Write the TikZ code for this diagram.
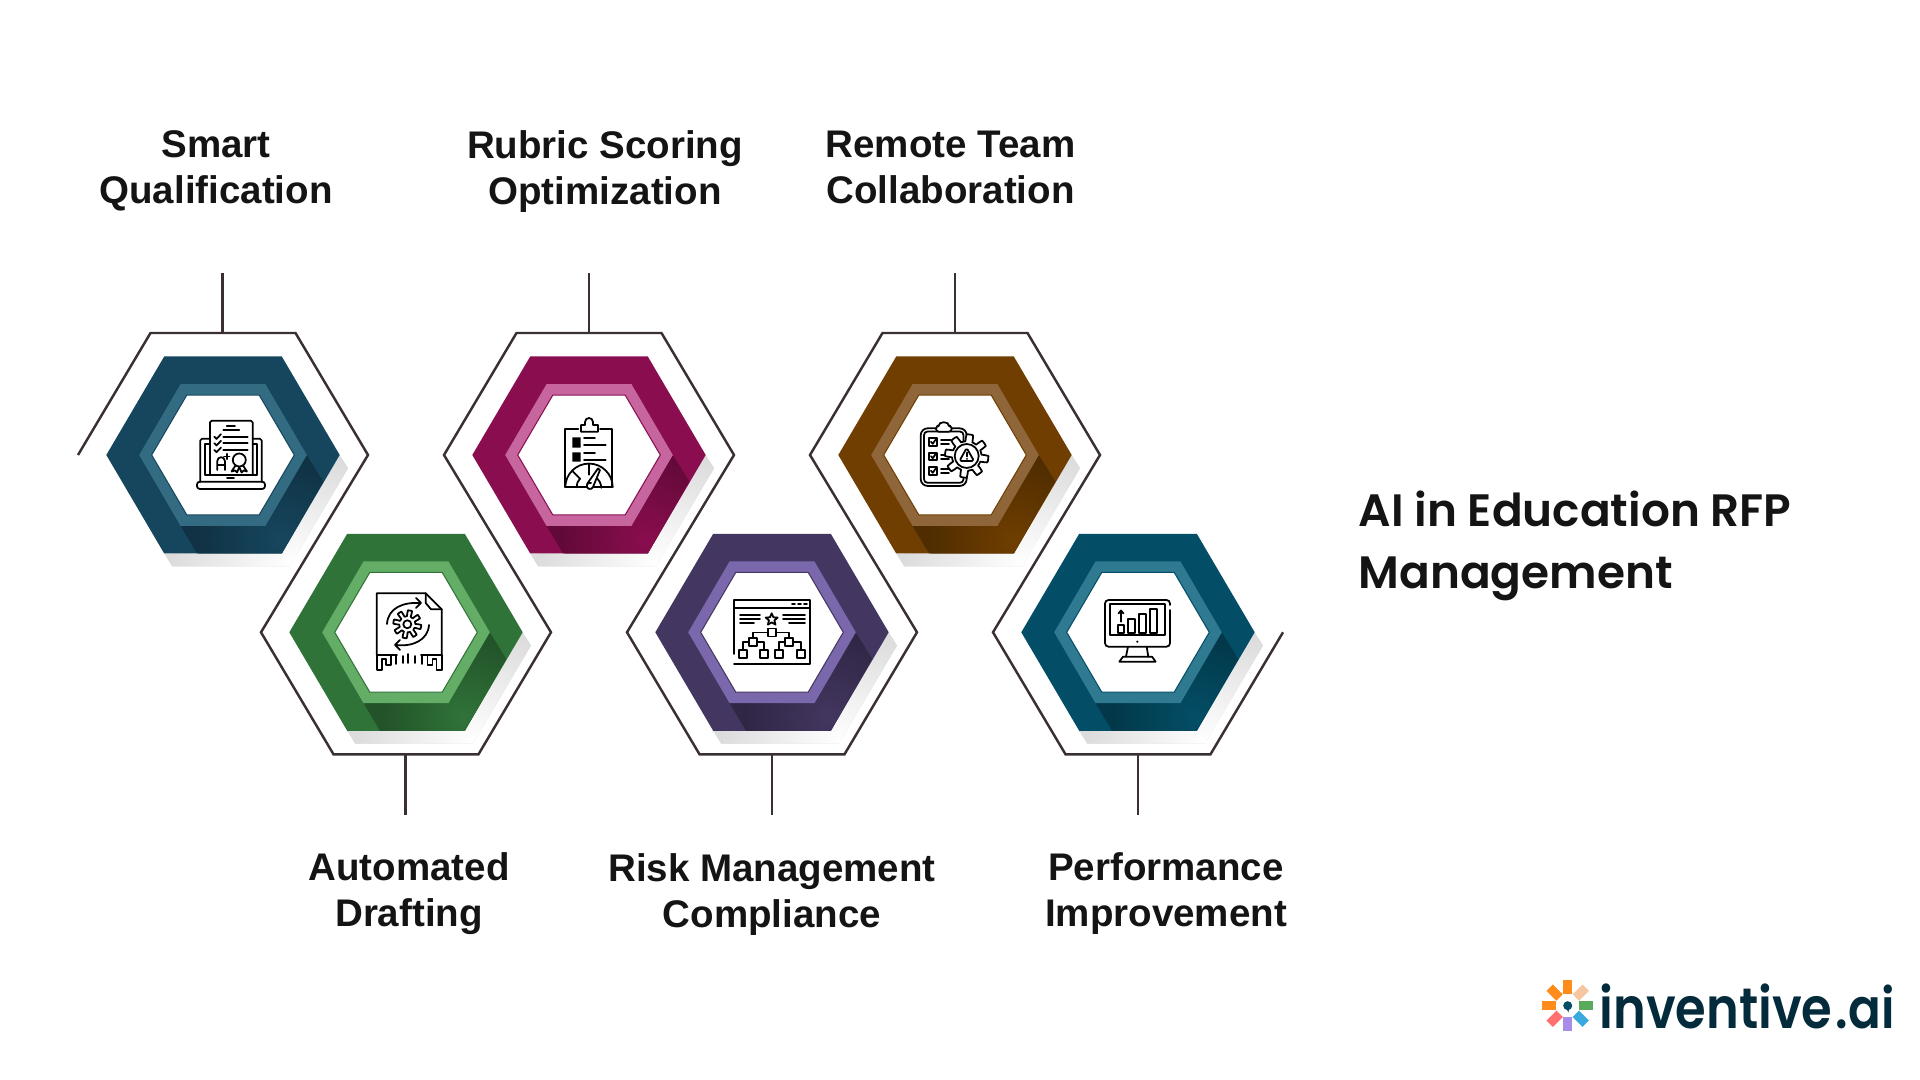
\documentclass[tikz,border=0pt]{standalone}
\usepackage{fontspec}
\setmainfont{Liberation Sans}
\newfontfamily\titlefont{Poppins SemiBold}
\newfontfamily\logofont{Poppins SemiBold}[FakeStretch=0.87]
\definecolor{wireink}{HTML}{3A2F33}
\definecolor{dropgray}{HTML}{DCDCDC}
\definecolor{logoink}{HTML}{032B3C}
\definecolor{blueDeep}{HTML}{16465E}
\definecolor{blueLight}{HTML}{336B82}
\definecolor{greenDeep}{HTML}{307339}
\definecolor{greenLight}{HTML}{63AD67}
\definecolor{plumDeep}{HTML}{8A0D4F}
\definecolor{plumLight}{HTML}{C6659E}
\definecolor{brownDeep}{HTML}{6F3E00}
\definecolor{brownLight}{HTML}{8F653A}
\definecolor{violetDeep}{HTML}{433660}
\definecolor{violetLight}{HTML}{7B68AC}
\definecolor{tealDeep}{HTML}{034E66}
\definecolor{tealLight}{HTML}{2F7A90}
\tikzset{
  wire/.style={wireink,line width=0.7pt},
  label/.style={font=\fontsize{10.95}{13.2}\selectfont\bfseries,align=center,text=black!92},
  iconline/.style={black,line width=0.5pt,line join=round,line cap=round},
}
\newcommand{\hexpath}[3]{(#1,0)--(#2,#3)--(-#2,#3)--(-#1,0)--(-#2,-#3)--(#2,-#3)--cycle}
\newcommand{\hexcell}[4]{%
\begin{scope}[shift={(#1,#2)}]
  \fill[dropgray] (116.7,0)--(125,13.3)--(67,111.3)--(-51,111.3)--(-58.8,98.5)--(58.8,98.5)--cycle;
  \begin{scope}
    \clip (116.7,0)--(125,13.3)--(67,111.3)--(-51,111.3)--(-58.8,98.5)--(58.8,98.5)--cycle;
    \shade[inner color=white,outer color=dropgray] (67,111) circle [radius=118];
  \end{scope}
  \fill[#3] \hexpath{116.7}{58.8}{98.5};
  \begin{scope}
    \clip (83.8,0)--(42.5,70.8)--(-42.5,70.8)--(-26,98.5)--(58.8,98.5)--(100,26.7)--cycle;
    \fill[#3!72!black] (-60,0) rectangle (120,100);
    \shade[inner color=#3,outer color=#3!72!black] (57,85) circle [radius=82];
  \end{scope}
  \fill[#4] \hexpath{83.8}{42.5}{70.8};
  \draw[#3,line width=0.3pt,fill=white] \hexpath{71.3}{36.2}{59.9};
\end{scope}}
\begin{document}
\begin{tikzpicture}[x=0.01cm,y=-0.01cm]
\useasboundingbox (0,0) rectangle (1920,1080);

\hexcell{223}{455}{blueDeep}{blueLight}
\hexcell{406}{632.3}{greenDeep}{greenLight}
\hexcell{589}{455}{plumDeep}{plumLight}
\hexcell{772}{632.3}{violetDeep}{violetLight}
\hexcell{955}{455}{brownDeep}{brownLight}
\hexcell{1138}{632.3}{tealDeep}{tealLight}

% outline running through all six cells
\draw[wire] (78,455)--(150.5,333)--(295.5,333)--(368,455)--(261,632.3)--(333.5,754.3)--(478.5,754.3)--(551,632.3)
  --(444,455)--(516.5,333)--(661.5,333)--(734,455)--(627,632.3)--(699.5,754.3)--(844.5,754.3)--(917,632.3)
  --(810,455)--(882.5,333)--(1027.5,333)--(1100,455)--(993,632.3)--(1065.5,754.3)--(1210.5,754.3)--(1283,632.3);

\coordinate (smartTop) at (222.5,273.5);   \coordinate (smartEdge) at (222.5,333);
\coordinate (rubricTop) at (589,273.5);    \coordinate (rubricEdge) at (589,333);
\coordinate (remoteTop) at (955,273.5);    \coordinate (remoteEdge) at (955,333);
\coordinate (draftEnd) at (405.5,815);     \coordinate (draftEdge) at (405.5,754.3);
\coordinate (riskEnd) at (772,815);        \coordinate (riskEdge) at (772,754.3);
\coordinate (perfEnd) at (1138,815);       \coordinate (perfEdge) at (1138,754.3);
\draw[wire] (smartTop)--(smartEdge);
\draw[wire] (rubricTop)--(rubricEdge);
\draw[wire] (remoteTop)--(remoteEdge);
\draw[wire] (draftEnd)--(draftEdge);
\draw[wire] (riskEnd)--(riskEdge);
\draw[wire] (perfEnd)--(perfEdge);

\node[label] (smartLabel) at (216,171) {Smart\\Qualification};
\node[label] (rubricLabel) at (605,171.5) {Rubric Scoring\\Optimization};
\node[label] (remoteLabel) at (950.5,167.5) {Remote Team\\Collaboration};
\node[label] (draftLabel) at (409,893.5) {Automated\\Drafting};
\node[label] (riskLabel) at (772,894.5) {Risk Management\\Compliance};
\node[label] (perfLabel) at (1166,893.5) {Performance\\Improvement};

\node[anchor=west,align=left,inner sep=0pt,text=black!92,font=\fontsize{12.9}{17.8}\selectfont\titlefont] (titleLabel) at (1358,546) {AI in Education RFP\\Management};

% laptop and certificate
\draw[iconline,rounded corners=0.5pt] (210,475)--(210,420.7)--(252.7,420.7)--(252.7,475);
\draw[iconline,rounded corners=0.5pt] (200.3,481.7)--(200.3,438.7)--(210,438.7);
\draw[iconline,rounded corners=0.5pt] (252.7,438.7)--(261.7,438.7)--(261.7,481.7);
\draw[iconline] (210,444)--(205.3,444)--(205.3,475)--(257.3,475)--(257.3,444)--(252.7,444);
\draw[iconline,rounded corners=0.8pt] (197,481.7) rectangle (265,489);
\draw[iconline] (227,478)--(234,478);
\draw[iconline] (226.7,425.7)--(235,425.7) (223.3,429.7)--(239.3,429.7);
\foreach \y in {436.7,443.3,450} {
  \draw[iconline] (223.3,\y)--(247.7,\y);
  \draw[iconline] (214.3,\y)--(216.5,\y+2.2)--(221,\y-2.5);
}
\draw[iconline] (217.3,470)--(217.3,461) arc (180:360:3.8)--(224.9,470) (217.3,465)--(224.9,465);
\draw[iconline] (224,456.5)--(229.4,456.5) (226.7,453.8)--(226.7,459.2);
\draw[iconline] (239.3,460) circle [radius=6.5];
\draw[iconline] (235.5,465.5)--(231.5,471.5)--(235,470.5)--(237,472.5)--(239.3,467)--(241.6,472.5)--(243.6,470.5)--(247,471.5)--(243,465.5);

% document with gear
\draw[iconline] (376.7,655)--(376.7,593.3)--(425.7,593.3)--(441.7,609.3)--(441.7,655);
\draw[iconline] (425.7,593.3)--(425.7,603)--(431,609.3)--(441.7,609.3);
\draw[iconline] plot[samples=145,domain=0:360] ({407.3+(11+3*max(min(3*sin(8*\x),1),-1))*cos(\x)},{624.3+(11+3*max(min(3*sin(8*\x),1),-1))*sin(\x)});
\draw[iconline] (407.3,624.3) circle [radius=4];
\draw[iconline] (387,624) .. controls (388,608) and (403,602) .. (420,603);
\draw[iconline] (416,598)--(421,603)--(416,608);
\draw[iconline] (429,625) .. controls (428,640) and (413,647) .. (396,645);
\draw[iconline] (400,640)--(395,645)--(400,650);
\draw[iconline] (397,655)--(376.7,655)--(376.7,670)--(382,670)--(382,659)--(386,659)--(386,665)--(391,665)--(391,655) (396,655)--(396,664);
\draw[iconline] (421,655)--(441.7,655)--(441.7,670)--(436.4,670)--(436.4,659)--(432.4,659)--(432.4,665)--(427.4,665)--(427.4,655) (422,655)--(422,664);
\draw[iconline] (402.7,656)--(402.7,663) (408.3,654)--(408.3,663) (415,656)--(415,663);

% clipboard with gauge
\draw[iconline] (578.3,429.3)--(565.3,429.3)--(565.3,487.3)--(612.3,487.3)--(612.3,429.3)--(600,429.3);
\draw[iconline] (581,431.7)--(598,431.7)--(598,425)--(593,425)--(593,422) arc (0:-180:4)--(585,425)--(581,425)--cycle;
\fill[black] (572.3,437.3) rectangle (580.7,447.7) (572.3,452.3) rectangle (580.7,461.7);
\draw[iconline] (584,438.3)--(595,438.3) (584,444.7)--(605.7,444.7) (584,453.3)--(595,453.3) (584,460)--(605.7,460);
\draw[iconline] (565.3,487.3) arc (180:360:23.7);
\draw[iconline] (576.5,487.3) arc (180:225:12.5) (595,477) arc (-60:0:12.5);
\draw[iconline] (589,463.6)--(589,474.8) (572,470.5)--(580,478.8);
\draw[iconline,fill=white] (587,484)--(598,468.5)--(600,470)--(593,487) arc (20:290:3.2);

% window with hierarchy
\draw[iconline] (734,664)--(810,664)--(810,600)--(734,600)--(734,654);
\draw[iconline] (734,608.3)--(810,608.3);
\draw[iconline] (792,604.3)--(795,604.3) (798,604.3)--(801,604.3) (804,604.3)--(807,604.3);
\draw[iconline] (740,615)--(760,615) (740,619.3)--(760,619.3) (740,623.3)--(754,623.3);
\draw[iconline] (783,615)--(805,615) (783,619.3)--(805,619.3) (789,623.3)--(805,623.3);
\draw[iconline] (771.7,613.3)--(773.4,617.3)--(777.7,617.6)--(774.4,620.4)--(775.5,624.6)--(771.7,622.4)--(767.9,624.6)--(769,620.4)--(765.7,617.6)--(770,617.3)--cycle;
\draw[iconline] (767.7,628.5) rectangle (775.7,636.5);
\draw[iconline] (749.3,638.3) rectangle (757.3,646.3) (785.3,638.3) rectangle (793.3,646.3);
\foreach \x in {742.7,764.3,778.7,801} {
  \draw[iconline] (\x-4,650) rectangle (\x+4,658);
}
\draw[iconline] (753.3,638.3)--(753.3,632.5)--(767.7,632.5) (775.7,632.5)--(789.3,632.5)--(789.3,638.3);
\draw[iconline] (749.3,642.3)--(742.7,642.3)--(742.7,650) (757.3,642.3)--(764.3,642.3)--(764.3,650);
\draw[iconline] (785.3,642.3)--(778.7,642.3)--(778.7,650) (793.3,642.3)--(801,642.3)--(801,650);

% clipboard with warning gear
\draw[iconline,rounded corners=2pt] (936,428.3)--(920.7,428.3)--(920.7,486)--(966.7,486)--(966.7,428.3)--(951.7,428.3);
\draw[iconline,rounded corners=1pt] (924,431.5) rectangle (963.5,482.8);
\draw[iconline,fill=white,rounded corners=0.8pt] (936,431.7)--(936,426)--(940,426) arc (180:360:3.8)--(951.7,426)--(951.7,431.7)--cycle;
\foreach \y in {438.3,452.7,467.3} {
  \draw[iconline] (929.3,\y) rectangle (936.7,\y+7.5);
  \draw[iconline] (931,\y+3.5)--(932.8,\y+5.5)--(935.5,\y+1.5);
  \draw[iconline] (941,\y+2)--(951,\y+2) (941,\y+6)--(949,\y+6);
}
\draw[iconline,fill=white] plot[samples=145,domain=0:360] ({966.7+(18.2+3.5*max(min(3*sin(8*\x+22),1),-1))*cos(\x)},{456+(18.2+3.5*max(min(3*sin(8*\x+22),1),-1))*sin(\x)}) --cycle;
\draw[iconline] (966.7,456) circle [radius=12];
\draw[iconline,rounded corners=0.5pt] (966.7,448)--(974,461)--(959.4,461)--cycle;
\draw[iconline] (966.7,452.5)--(966.7,456.5) (966.7,458.8)--(966.7,459);

% monitor with bars
\draw[iconline,rounded corners=1pt] (1170,605)--(1170,600)--(1105,600)--(1105,646.7)--(1170,646.7)--(1170,610);
\draw[iconline] (1110,604)--(1165,604)--(1165,635)--(1110,635)--cycle;
\draw[iconline] (1118.3,625) rectangle (1124.3,632.7) (1128.3,619.3) rectangle (1135,632.7) (1139.3,614) rectangle (1146,632.7) (1150,609.3) rectangle (1156.7,632.7);
\draw[iconline] (1121,621.7)--(1121,611) (1118.5,613.5)--(1121,610.5)--(1123.5,613.5);
\fill[black] (1137.3,641.7) circle [radius=1.2];
\draw[iconline] (1128,646.7)--(1126,656.7) (1146.7,646.7)--(1148.3,656.7);
\draw[iconline] (1123,656.7)--(1152,656.7)--(1155.7,661.7)--(1119.3,661.7)--cycle;

% logo mark
\foreach \ang/\col in {0/58AB5A,45/F5C6A0,90/FF8C1A,135/FF8C1A,180/FF8C1A,225/FF6F6F,270/A98CE8,315/39A9E0} {
  \definecolor{petal}{HTML}{\col}
  \fill[petal,shift={(1567.7,1005.7)},rotate=\ang] (11.5,-4.5)--(25.5,-4.5)--(25.5,4.5)--(11.5,4.5)--cycle;
}
\fill[tealDeep] (1567.7,1005.7) circle [radius=4.5];
\fill[tealDeep] (1566,1008)--(1569,1008.5)--(1568.5,1012.5)--cycle;
\node[anchor=base west,inner sep=0pt,text=logoink,font=\fontsize{16.2}{16.2}\selectfont\logofont] (logoWord) at (1599,1028.5) {inventive};
\node[anchor=base west,inner sep=0pt,text=logoink,font=\fontsize{15.8}{15.8}\selectfont\logofont] (logoDot) at (1835,1028.5) {.ai};
\end{tikzpicture}
\end{document}
